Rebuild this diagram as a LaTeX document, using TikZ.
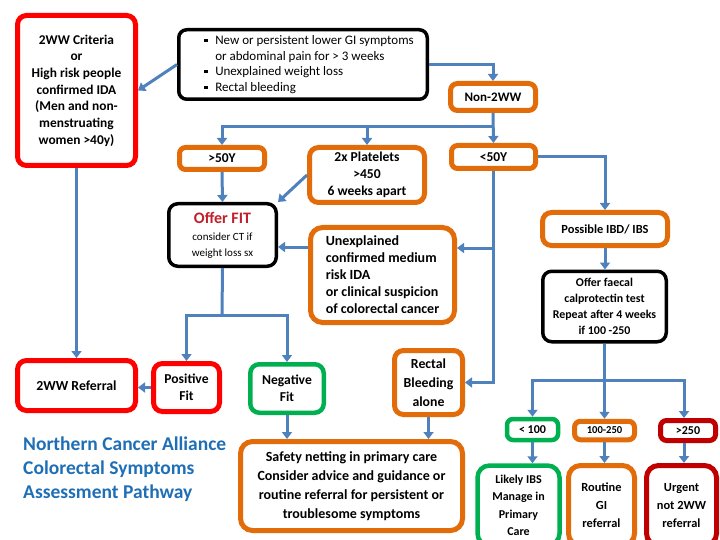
\documentclass[tikz,border=0pt]{standalone}
\usepackage{fontspec}
\setmainfont{Carlito}
\usetikzlibrary{arrows.meta}
\definecolor{redc}{HTML}{FF0000}
\definecolor{dred}{HTML}{C00000}
\definecolor{orng}{HTML}{E36C0A}
\definecolor{grn}{HTML}{00B050}
\definecolor{cblue}{HTML}{4F81BD}
\definecolor{ttlblue}{HTML}{1F6FB6}
\definecolor{fitred}{HTML}{C0202A}
\newcommand\fsB{\fontsize{13.6}{17}\selectfont\bfseries}
\newcommand\fsM{\fontsize{13}{15.7}\selectfont}
\newcommand\fsS{\fontsize{11.9}{16}\selectfont\bfseries}
\newcommand\bulsq{\hspace*{12pt}\makebox[11pt][l]{\rule[2.3pt]{3.4pt}{3.4pt}}}
\newcommand\bulind{\hspace*{23pt}}
\begin{document}
\begin{tikzpicture}[x=1pt,y=-1pt,
  bx/.style={draw, rounded corners=9pt, inner sep=0pt, align=center, fill=white},
  redbox/.style={bx, draw=redc, line width=5pt},
  drbox/.style={bx, draw=dred, line width=5pt},
  orbox/.style={bx, draw=orng, line width=5pt},
  blkbox/.style={bx, draw=black, line width=3.5pt},
  grbox/.style={bx, draw=grn, line width=4.5pt},
  conn/.style={draw=cblue, line width=3pt, -{Triangle[length=7pt,width=10pt]}},
  ln/.style={draw=cblue, line width=3pt}]
\useasboundingbox (0,0) rectangle (720,540);
\clip (0,0) rectangle (720,540);
\fill[white] (0,0) rectangle (720,540);

% nodes
\node[redbox, minimum width=118pt, minimum height=150pt, font=\fontsize{13.4}{16.7}\selectfont\bfseries] (crit) at (76.5,90.5)
  {2WW Criteria\\or\\High risk people\\confirmed IDA\\(Men and non-\\menstruating\\women >40y)};
\node[blkbox, rounded corners=8pt, minimum width=248.5pt, minimum height=69.5pt, font=\fsM, align=left] (bul) at (303,64.5)
  {\bulsq New or persistent lower GI symptoms\\\bulind or abdominal pain for > 3 weeks\\\bulsq Unexplained weight loss\\\bulsq Rectal bleeding};
\node[orbox, rounded corners=7pt, minimum width=85pt, minimum height=27pt, font=\fontsize{13}{14}\selectfont\bfseries] (non) at (493,97) {Non-2WW};
\node[orbox, rounded corners=6pt, minimum width=85pt, minimum height=22pt, font=\fontsize{13.5}{14}\selectfont\bfseries] (o50) at (222,158.5) {>50Y};
\node[orbox, minimum width=115pt, minimum height=55pt, font=\fsB] (plt) at (367,175) {2x Platelets\\>450\\6 weeks apart};
\node[orbox, rounded corners=6pt, minimum width=84pt, minimum height=23pt, font=\fontsize{13.5}{14}\selectfont\bfseries] (u50) at (493.5,157) {<50Y};
\node[blkbox, minimum width=107.5pt, minimum height=62.5pt, font=\fontsize{11}{16}\selectfont] (fit) at (222.5,235)
  {{\fontsize{16}{16}\selectfont\bfseries\color{fitred}Offer FIT}\\[1pt]consider CT if\\weight loss sx};
\node[orbox, rounded corners=12pt, minimum width=144pt, minimum height=95pt, font=\fontsize{14}{17}\selectfont\bfseries, align=left] (unx) at (382.5,275)
  {Unexplained\\confirmed medium\\risk IDA\\or clinical suspicion\\of colorectal cancer};
\node[orbox, minimum width=125pt, minimum height=33pt, font=\fontsize{12.4}{13}\selectfont\bfseries] (ibd) at (605,229) {Possible IBD/ IBS};
\node[blkbox, minimum width=123.5pt, minimum height=70.5pt, font=\fsS] (cal) at (604.5,306.5)
  {Offer faecal\\calprotectin test\\Repeat after 4 weeks\\if 100 -250};
\node[orbox, minimum width=68pt, minimum height=64pt, font=\fontsize{13.8}{19}\selectfont\bfseries] (rb) at (428.5,382.5) {Rectal\\Bleeding\\alone};
\node[orbox, rounded corners=12pt, minimum width=222pt, minimum height=89pt, font=\fontsize{14}{19}\selectfont\bfseries] (saf) at (351.5,486)
  {Safety netting in primary care\\Consider advice and guidance or\\routine referral for persistent or\\troublesome symptoms};
\node[grbox, minimum width=73.5pt, minimum height=48.5pt, font=\fsB] (neg) at (287,388.5) {Negative\\Fit};
\node[redbox, minimum width=66pt, minimum height=48pt, font=\fsB] (pos) at (186.5,387.5) {Positive\\Fit};
\node[redbox, minimum width=118pt, minimum height=50pt, font=\fontsize{13.8}{17}\selectfont\bfseries] (ref) at (76.5,385.5) {2WW Referral};
\node[grbox, rounded corners=6pt, minimum width=51pt, minimum height=21pt, font=\fontsize{12}{13}\selectfont\bfseries] (l100) at (532.5,429.5) {< 100};
\node[orbox, rounded corners=6pt, minimum width=60pt, minimum height=18.5pt, font=\fontsize{10.6}{12}\selectfont\bfseries] (m250) at (604.5,430.5) {100-250};
\node[drbox, rounded corners=6pt, minimum width=55pt, minimum height=20pt, font=\fontsize{12}{13}\selectfont\bfseries] (g250) at (688,430.5) {>250};
\node[grbox, rounded corners=12pt, minimum width=82pt, minimum height=80pt, font=\fontsize{12}{17.5}\selectfont\bfseries] (ibs) at (518.5,505.5) {Likely IBS\\Manage in\\Primary\\Care};
\node[orbox, rounded corners=12pt, minimum width=66pt, minimum height=80pt, font=\fontsize{12.4}{18}\selectfont\bfseries] (rout) at (601.5,505.5) {Routine\\GI\\referral};
\node[drbox, rounded corners=12pt, minimum width=70pt, minimum height=80pt, font=\fontsize{12.4}{18}\selectfont\bfseries] (urg) at (681.5,505.5) {Urgent\\not 2WW\\referral};
\node[anchor=north west, inner sep=0pt, align=left, text=ttlblue, font=\fontsize{19.5}{24}\selectfont\bfseries] (ttl) at (23,437)
  {Northern Cancer Alliance\\Colorectal Symptoms\\Assessment Pathway};

% junction coordinates
\coordinate (j1) at (493,127);
\coordinate (j2) at (222,315);
\coordinate (j3) at (604.5,380);
\path ([yshift=28pt]unx.west) coordinate (uw);
\path ([yshift=27pt]unx.east) coordinate (ue);
\path ([xshift=-4pt]g250.north) coordinate (gn);
\path ([xshift=-4pt]g250.south) coordinate (gs);

% connectors
\draw[conn] (bul.west) -- (crit.east);
\draw[conn] (bul.east) -| (non.north);
\draw[conn] (non.south) -- (u50.north);
\draw[conn] (j1) -| (o50.north);
\draw[conn] (j1 -| plt.north) -- (plt.north);
\draw[conn] (o50.south) -- (fit.north);
\draw[conn] (plt.west) -- (fit.north east);
\draw[conn] (uw) -- (uw -| fit.east);
\draw[conn] (u50.south) |- (rb.east);
\draw[conn] (ue -| u50.south) -- (ue);
\draw[conn] (u50.east) -| (ibd.north);
\draw[conn] (ibd.south) -- (ibd.south |- cal.north);
\draw[ln] (cal.south) -- (j3);
\draw[conn] (j3) -| (l100.north);
\draw[conn] (j3) -- (m250.north);
\draw[conn] (j3) -| (gn);
\draw[conn] (l100.south) -- (l100.south |- ibs.north);
\draw[conn] (m250.south) -- (m250.south |- rout.north);
\draw[conn] (gs) -- (gs |- urg.north);
\draw[conn] (crit.south) -- (ref.north);
\draw[ln] (fit.south) -- (j2);
\draw[conn] (j2) -| (pos.north);
\draw[conn] (j2) -| (neg.north);
\draw[conn] (pos.west) -- (pos.west -| ref.east);
\draw[conn] (neg.south) -- (neg.south |- saf.north);
\draw[conn] (rb.south) -- (rb.south |- saf.north);
\end{tikzpicture}
\end{document}
